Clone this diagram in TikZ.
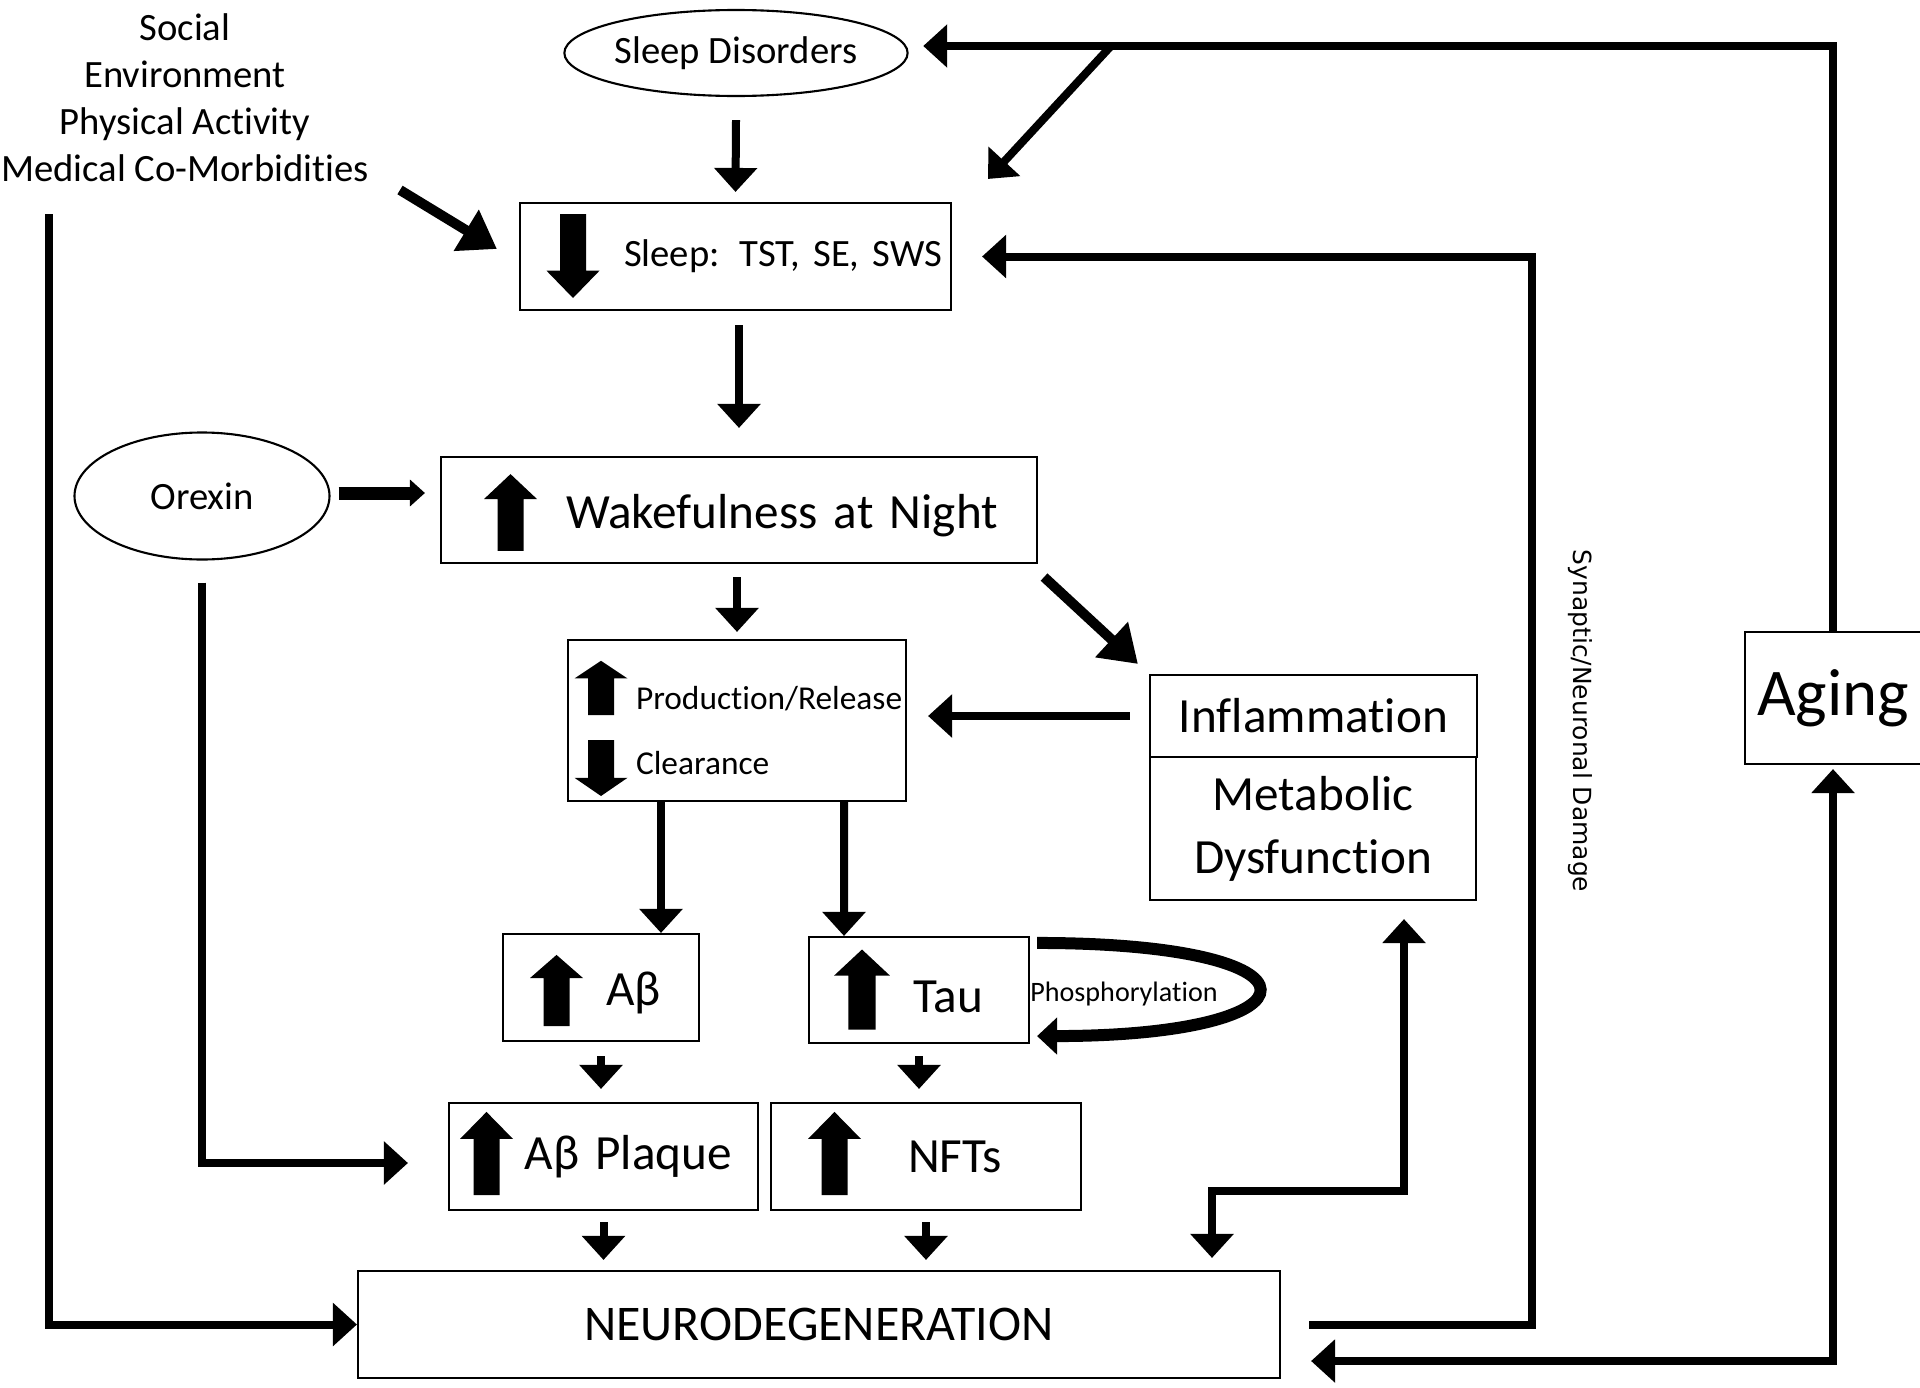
\documentclass[tikz,border=0pt]{standalone}
\usepackage{fontspec}
\setmainfont{Carlito}[Ligatures=NoCommon]
\newfontfamily\dmgfont{DejaVu Sans}
\usetikzlibrary{arrows.meta, positioning, shapes.geometric}

\tikzset{
	box/.style={draw, line width=0.6pt, inner ysep=0pt},
	oval/.style={draw, ellipse, line width=0.6pt, inner sep=0pt},
	bigtxt/.style={font=\fontsize{14}{17}\selectfont},
	midtxt/.style={font=\fontsize{11}{13.4}\selectfont},
	link/.style={line width=0.08cm, -{Triangle[length=0.24cm,width=0.42cm]}},
	slant/.style={line width=0.1cm, -{Triangle[length=0.36cm,width=0.46cm]}},
	upblk/.pic={\fill (-0.13,-0.4) -- (-0.13,0.14) -- (-0.265,0.14) -- (0,0.4) -- (0.265,0.14) -- (0.13,0.14) -- (0.13,-0.4) -- cycle;},
	dnblk/.pic={\fill (-0.13,0.4) -- (-0.13,-0.14) -- (-0.265,-0.14) -- (0,-0.4) -- (0.265,-0.14) -- (0.13,-0.14) -- (0.13,0.4) -- cycle;}
}

\begin{document}
\begin{tikzpicture}
	\useasboundingbox (0,0) rectangle (19.2,13.87);

	\node[oval, midtxt, minimum width=3.39cm, minimum height=0.86cm] (dis) at (7.36, 13.34) {Sleep Disorders};
	\node[midtxt, align=center] (factors) at (1.85, 12.89) {Social\\Environment\\Physical Activity\\Medical Co-Morbidities};
	\node[box, midtxt, minimum height=1.07cm, text width=4.13cm, inner xsep=0.09cm, align=right] (slp) at (7.355, 11.305) {Sleep:\hspace{0.2cm}TST, SE, SWS};

	\node[oval, midtxt, minimum width=2.55cm, minimum height=1.27cm] (orx) at (2.02, 8.91) {Orexin};
	\node[box, bigtxt, minimum height=1.06cm, text width=5.18cm, inner xsep=0.39cm, align=right] (wake) at (7.39, 8.77) {\rule{0pt}{0.45cm}Wakefulness at Night};

	\node[box, font=\fontsize{9.5}{18.5}\selectfont, minimum height=1.61cm, text width=3.34cm, inner xsep=0.02cm, align=left] (prd) at (7.37, 6.665) {\rule{0pt}{0.43cm}\hspace*{0.66cm}\mbox{Production/Release}\\\hspace*{0.66cm}Clearance};
	\node[box, bigtxt, minimum width=3.27cm, minimum height=0.82cm] (infl) at (13.135, 6.71) {Inflammation};
	\node[box, font=\fontsize{14}{17.9}\selectfont, minimum width=3.26cm, minimum height=1.43cm, align=center] (met) at (13.13, 5.585) {Metabolic\\Dysfunction};

	\node[box, bigtxt, minimum height=1.07cm, text width=1.20cm, inner xsep=0.38cm, align=right] (ab) at (6.01, 3.995) {\rule{0pt}{0.45cm}Aβ};
	\node[box, bigtxt, minimum height=1.06cm, text width=1.28cm, inner xsep=0.46cm, align=right] (tau) at (9.19, 3.97) {\rule{0pt}{0.45cm}Tau};
	\node[font=\fontsize{8}{9.6}\selectfont] (phl) at (11.24, 3.93) {Phosphorylation};

	\node[box, bigtxt, minimum height=1.07cm, text width=2.57cm, inner xsep=0.26cm, align=right] (plq) at (6.035, 2.305) {Aβ Plaque};
	\node[box, bigtxt, minimum height=1.07cm, text width=1.52cm, inner xsep=0.79cm, align=right] (nft) at (9.26, 2.305) {NFTs};
	\node[box, font=\fontsize{14.2}{17}\selectfont, minimum width=9.22cm, minimum height=1.07cm] (neuro) at (8.19, 0.625) {NEURODEGENERATION};

	\node[box, font=\fontsize{19}{22}\selectfont, minimum width=1.72cm, minimum height=1.32cm] (aging) at (18.33, 6.89) {Aging};
	\node[font=\dmgfont\fontsize{7.1}{8.5}\selectfont, rotate=-90] (dmg) at (15.80, 6.66) {Synaptic/Neuronal Damage};

	% block arrows inside the boxes
	\pic[yscale=1.05] at (5.73, 11.31) {dnblk};
	\pic[yscale=0.96] at (5.105, 8.745) {upblk};
	\pic[yscale=0.68] at (6.01, 6.99) {upblk};
	\pic[yscale=0.70] at (6.01, 6.19) {dnblk};
	\pic[yscale=0.89] at (5.565, 3.965) {upblk};
	\pic[xscale=1.05] at (8.62, 3.975) {upblk};
	\pic[yscale=1.04] at (4.865, 2.335) {upblk};
	\pic[yscale=1.04] at (8.345, 2.335) {upblk};

	\coordinate (fork) at (11.11, 13.41);
	\coordinate (fromfac) at (4.00, 11.97);
	\coordinate (lft) at (0.49, 11.73);

	% straight arrows
	\draw[link] ([yshift=-0.23cm]dis.south) -- ([yshift=0.10cm]slp.north);
	\draw[link] ([yshift=-0.14cm]slp.south -| wake.north) -- ([yshift=0.28cm]wake.north);
	\draw[link] ([yshift=-0.13cm]wake.south -| prd.north) -- ([yshift=0.07cm]prd.north);
	\draw[line width=0.13cm, -{Triangle[length=0.15cm,width=0.26cm]}] ([xshift=0.08cm,yshift=0.03cm]orx.east) -- ([xshift=-0.15cm,yshift=0.03cm]wake.west |- orx.east);
	\draw[link] ([xshift=-0.19cm]infl.west) -- ([xshift=0.21cm]prd.east |- infl.west);
	\draw[link] ([xshift=-0.76cm]prd.south) -- ([xshift=0.6cm]ab.north);
	\draw[link] ([xshift=1.07cm]prd.south) -- ([xshift=-0.75cm]tau.north);
	\draw[link] ([yshift=-0.14cm]ab.south) -- ([yshift=0.13cm]ab.south |- plq.north);
	\draw[link] ([yshift=-0.12cm]tau.south) -- ([yshift=0.13cm]tau.south |- nft.north);
	\draw[link] ([yshift=-0.11cm]plq.south) -- ([yshift=0.10cm]plq.south |- neuro.north);
	\draw[link] ([yshift=-0.11cm]nft.south) -- ([yshift=0.10cm]nft.south |- neuro.north);

	% slanted arrows
	\draw[slant] (fromfac) -- ([shift={(-0.22,0.075)}]slp.west);
	\draw[slant] ([shift={(0.06,-0.13)}]wake.south east) -- ([shift={(-0.11,0.10)}]infl.north west);
	\draw[link] (fork) -- ([shift={(0.36,0.23)}]slp.north east);

	% phosphorylation loop
	\draw[line width=0.12cm, -{Triangle[length=0.2cm,width=0.36cm]}] ([shift={(0.07,-0.07)}]tau.north east) .. controls +(3.0,0) and +(2.9,0) .. ([shift={(0.07,0.08)}]tau.south east);

	% long elbow lines
	\draw[link] (aging.north) |- ([xshift=0.145cm,yshift=0.07cm]dis.east);
	\draw[link] ([xshift=0.28cm]neuro.east) -- ++(2.23,0) |- ([xshift=0.3cm]slp.east);
	\draw[link, {Triangle[length=0.24cm,width=0.42cm]}-{Triangle[length=0.24cm,width=0.42cm]}] ([xshift=0.91cm,yshift=-0.18cm]met.south) -- ++(0,-2.72) -| ([xshift=3.93cm,yshift=0.12cm]neuro.north);
	\draw[link, {Triangle[length=0.24cm,width=0.42cm]}-{Triangle[length=0.24cm,width=0.42cm]}] ([yshift=-0.04cm]aging.south) |- ([xshift=0.3cm,yshift=-0.365cm]neuro.east);
	\draw[link] (lft) |- (neuro.west);
	\draw[link] ([yshift=-0.22cm]orx.south) |- ([xshift=-0.4cm,yshift=-0.065cm]plq.west);

\end{tikzpicture}
\end{document}
